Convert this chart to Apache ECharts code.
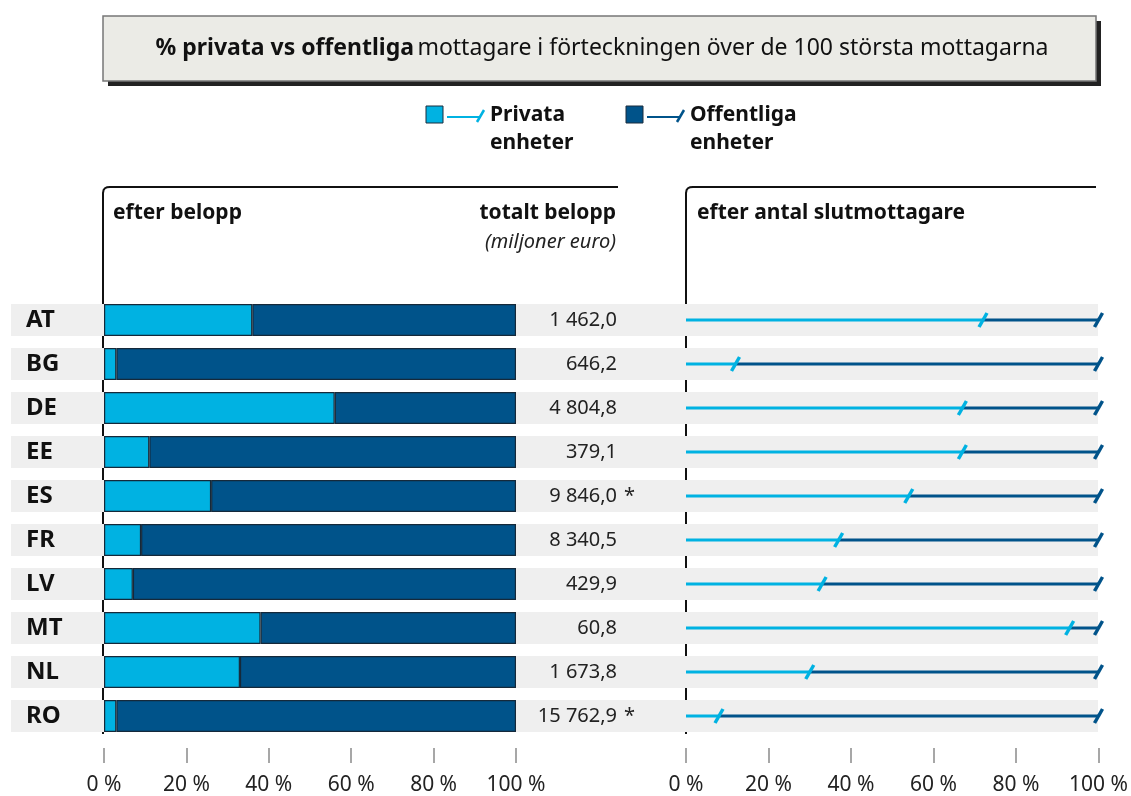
<!DOCTYPE html>
<html>
<head>
<meta charset="utf-8">
<script src="https://cdn.jsdelivr.net/npm/echarts@6/dist/echarts.min.js"></script>
<style>
  html, body { margin: 0; padding: 0; background: #fff; }
  #chart { width: 1131px; height: 796px; }
</style>
</head>
<body>
<div id="chart"></div>
<script>
// data
var countries = ['AT', 'BG', 'DE', 'EE', 'ES', 'FR', 'LV', 'MT', 'NL', 'RO'];
// share of amount (%)
var privateAmount = [36, 3, 56, 11, 26, 9, 7, 38, 33, 3];
var publicAmount  = [64, 97, 44, 89, 74, 91, 93, 62, 67, 97];
// share of number of final recipients (%)
var privateCount = [72, 12, 67, 67, 54, 37, 33, 93, 30, 8];
var publicCount  = [28, 88, 33, 33, 46, 63, 67, 7, 70, 92];
// total amount, million euro
var totals = [1462.0, 646.2, 4804.8, 379.1, 9846.0, 8340.5, 429.9, 60.8, 1673.8, 15762.9];
var notes  = ['', '', '', '', '*', '', '', '', '', '*'];
var pctTicks = [0, 20, 40, 60, 80, 100];

var LIGHT = '#00b2e2';
var DARK = '#00538a';
var FONT = '"Noto Sans", "Open Sans", sans-serif';

function fmt(v) {
  var parts = v.toFixed(1).split('.');
  return parts[0].replace(/\B(?=(\d{3})+(?!\d))/g, ' ') + ',' + parts[1];
}

// frame: vertical line up, small rounded corner, then horizontal line
function frame(x, yBottom, yTop, xEnd) {
  return {
    type: 'polyline', silent: true,
    shape: { points: [[x, yBottom], [x, yTop + 6], [x + 0.6, yTop + 3], [x + 2, yTop + 1.2], [x + 4, yTop + 0.3], [x + 7, yTop], [xEnd, yTop]] },
    style: { stroke: '#111', lineWidth: 2, fill: null }
  };
}

var chart = echarts.init(document.getElementById('chart'));

var pctAxis = function (grid) {
  return {
    gridIndex: grid, type: 'value', min: pctTicks[0], max: pctTicks[pctTicks.length - 1], interval: 20,
    position: 'bottom', offset: 10,
    axisLine: { show: false },
    axisTick: { show: true, length: 15, lineStyle: { color: '#8a8a8a', width: 1.5 } },
    splitLine: { show: false },
    axisLabel: { formatter: '{value} %', margin: 27, fontSize: 21, color: '#222', fontFamily: FONT }
  };
};

var plainY = function (grid) {
  return { gridIndex: grid, type: 'category', data: countries, inverse: true,
           axisLine: { show: false }, axisTick: { show: false } };
};

var yCountry = plainY(1);
yCountry.axisLabel = { align: 'left', margin: 78, fontSize: 24, fontWeight: 'bold', color: '#111', fontFamily: FONT };

var yTotal = plainY(1);
yTotal.position = 'right';
yTotal.axisLabel = {
  align: 'right', margin: 101, fontSize: 20, color: '#222', fontFamily: FONT,
  formatter: function (val, i) { return fmt(totals[i]); }
};

var yNote = plainY(1);
yNote.position = 'right';
yNote.offset = 0.001;
yNote.axisLabel = {
  align: 'left', margin: 108, fontSize: 20, color: '#222', fontFamily: FONT,
  formatter: function (val, i) { return notes[i]; }
};

var option = {
  animation: false,
  textStyle: { fontFamily: FONT },
  grid: [
    { left: 11, right: 33, top: 298, bottom: 58 },
    { left: 104, right: 615, top: 298, bottom: 58 },
    { left: 686, right: 32, top: 298, bottom: 58 }
  ],
  xAxis: [
    { gridIndex: 0, type: 'value', min: 0, max: 1, show: false },
    pctAxis(1),
    pctAxis(2)
  ],
  yAxis: [
    { gridIndex: 0, type: 'category', data: countries, inverse: true, show: false },
    yCountry,
    yTotal,
    { gridIndex: 2, type: 'category', data: countries, inverse: true, show: false },
    yNote
  ],
  series: [
    {
      type: 'bar', xAxisIndex: 0, yAxisIndex: 0, silent: true, z: 0,
      barWidth: 32, data: countries.map(function () { return 1; }),
      itemStyle: { color: '#efefef' }
    },
    {
      name: 'Privata enheter', type: 'bar', xAxisIndex: 1, yAxisIndex: 1, stack: 'belopp',
      barWidth: 32, data: privateAmount,
      itemStyle: { color: LIGHT, borderColor: '#15293a', borderWidth: 1.2 }
    },
    {
      name: 'Offentliga enheter', type: 'bar', xAxisIndex: 1, yAxisIndex: 1, stack: 'belopp',
      barWidth: 32, data: publicAmount,
      itemStyle: { color: DARK, borderColor: '#15293a', borderWidth: 1.2 }
    },
    {
      type: 'custom', xAxisIndex: 2, yAxisIndex: 3, clip: false,
      data: countries.map(function (c, i) { return [i, privateCount[i], privateCount[i] + publicCount[i]]; }),
      encode: { y: 0, x: [1, 2] },
      renderItem: function (params, api) {
        var i = api.value(0);
        var p0 = api.coord([0, i]);
        var p1 = api.coord([api.value(1), i]);
        var p2 = api.coord([api.value(2), i]);
        var y = p0[1];
        var tick = function (x, color) {
          return { type: 'line', shape: { x1: x - 4, y1: y + 7, x2: x + 4, y2: y - 7 },
                   style: { stroke: color, lineWidth: 3.5 } };
        };
        return {
          type: 'group',
          children: [
            { type: 'line', shape: { x1: p0[0], y1: y, x2: p1[0], y2: y }, style: { stroke: LIGHT, lineWidth: 3 } },
            { type: 'line', shape: { x1: p1[0], y1: y, x2: p2[0], y2: y }, style: { stroke: DARK, lineWidth: 3 } },
            tick(p2[0], DARK),
            tick(p1[0], LIGHT)
          ]
        };
      }
    }
  ],
  graphic: [
    // title box with drop shadow
    { type: 'rect', shape: { x: 108, y: 21, width: 993, height: 65 }, style: { fill: '#222' }, silent: true },
    { type: 'rect', shape: { x: 103, y: 16, width: 993, height: 65 }, style: { fill: '#ebebe6', stroke: '#777', lineWidth: 1.5 }, silent: true },
    {
      type: 'text', x: 602, y: 48,
      style: {
        text: '{b|% privata vs offentliga} {n|mottagare i förteckningen över de 100 största mottagarna}',
        align: 'center', verticalAlign: 'middle',
        rich: {
          b: { fontSize: 23, fontWeight: 'bold', fill: '#111', fontFamily: FONT },
          n: { fontSize: 23, fill: '#111', fontFamily: FONT }
        }
      }
    },
    // legend
    { type: 'rect', shape: { x: 426, y: 106, width: 17, height: 17 }, style: { fill: LIGHT, stroke: '#1a2c3c', lineWidth: 1 } },
    { type: 'polyline', shape: { points: [[447, 117], [481, 117]] }, style: { stroke: LIGHT, lineWidth: 2, fill: null } },
    { type: 'line', shape: { x1: 477, y1: 122, x2: 484, y2: 110 }, style: { stroke: LIGHT, lineWidth: 2.5 } },
    { type: 'text', x: 490, y: 101, style: { text: 'Privata\nenheter', fontSize: 21, fontWeight: 'bold', lineHeight: 28, fill: '#111', fontFamily: FONT } },
    { type: 'rect', shape: { x: 626, y: 106, width: 17, height: 17 }, style: { fill: DARK, stroke: '#1a2c3c', lineWidth: 1 } },
    { type: 'polyline', shape: { points: [[647, 117], [681, 117]] }, style: { stroke: DARK, lineWidth: 2, fill: null } },
    { type: 'line', shape: { x1: 677, y1: 122, x2: 684, y2: 110 }, style: { stroke: DARK, lineWidth: 2.5 } },
    { type: 'text', x: 690, y: 101, style: { text: 'Offentliga\nenheter', fontSize: 21, fontWeight: 'bold', lineHeight: 28, fill: '#111', fontFamily: FONT } },
    // panel frames
    frame(103, 734, 187, 618),
    frame(686, 734, 187, 1096),
    // panel headers
    { type: 'text', x: 113, y: 213, style: { text: 'efter belopp', fontSize: 21, fontWeight: 'bold', fill: '#111', verticalAlign: 'middle', fontFamily: FONT } },
    { type: 'text', x: 616, y: 213, style: { text: 'totalt belopp', fontSize: 21, fontWeight: 'bold', fill: '#111', align: 'right', verticalAlign: 'middle', fontFamily: FONT } },
    { type: 'text', x: 616, y: 242, style: { text: '(miljoner euro)', fontSize: 20, fontStyle: 'italic', fill: '#222', align: 'right', verticalAlign: 'middle', fontFamily: FONT } },
    { type: 'text', x: 697, y: 213, style: { text: 'efter antal slutmottagare', fontSize: 21, fontWeight: 'bold', fill: '#111', verticalAlign: 'middle', fontFamily: FONT } }
  ]
};

chart.setOption(option);
</script>
</body>
</html>
